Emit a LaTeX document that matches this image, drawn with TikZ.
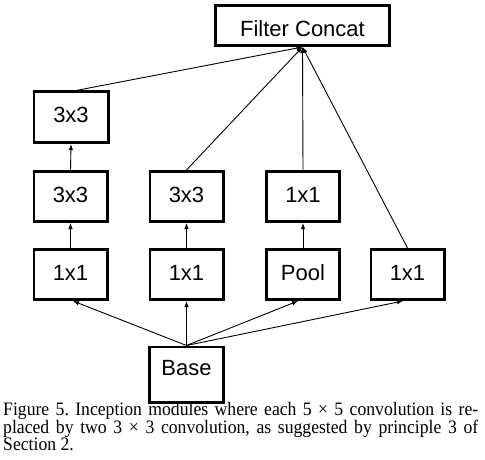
\documentclass[tikz,border=0pt]{standalone}
\usepackage{fontspec}
\setmainfont{Liberation Sans}
\newfontfamily\capfont[FakeStretch=0.93]{Liberation Serif}
\usetikzlibrary{arrows.meta}
\newcommand\lift[2]{\raisebox{#1}[\height][\depth]{#2}}
\frenchspacing
\begin{document}
\begin{tikzpicture}[x=1pt,y=-1pt,
  box/.style={draw,line width=2.6pt,minimum width=73.4pt,minimum height=50.4pt,inner sep=0pt,font=\fontsize{22}{24}\selectfont},
  conn/.style={line width=0.9pt,-{Latex[length=6pt,width=4.5pt]}}]
\useasboundingbox (0,0) rectangle (485,460);
\node[box,minimum width=174.4pt,minimum height=40.4pt] (fc) at (302.5,25.5) {\lift{-3.5pt}{Filter Concat}};
\node[box,minimum width=74.4pt,minimum height=50.9pt] (a3) at (71,117.25) {\lift{2pt}{3x3}};
\node[box] (a2) at (70.5,196.5) {\lift{2pt}{3x3}};
\node[box] (b2) at (186.5,196.5) {\lift{2pt}{3x3}};
\node[box] (c2) at (303,196.5) {\lift{2pt}{1x1}};
\node[box] (a1) at (70.5,274.5) {\lift{2pt}{1x1}};
\node[box] (b1) at (186.5,274.5) {\lift{2pt}{1x1}};
\node[box] (c1) at (303,274.5) {\lift{2pt}{Pool}};
\node[box] (d1) at (407.5,274.5) {\lift{2pt}{1x1}};
\node[box,minimum width=74.4pt,minimum height=55.4pt] (base) at (186.5,374.5) {\lift{6pt}{Base}};
% base to first row
\draw[conn] (base.north) -- ([xshift=2.5pt]a1.south);
\draw[conn] (base.north) -- (b1.south);
\draw[conn] (base.north) -- ([xshift=-5pt]c1.south);
\draw[conn] (base.north) -- ([xshift=-4.5pt]d1.south);
% verticals
\draw[conn] (a1.north) -- (a2.south);
\draw[conn] (b1.north) -- (b2.south);
\draw[conn] (c1.north) -- (c2.south);
\draw[conn] (a2.north) -- (a3.south);
% to concat
\draw[conn] ([xshift=5pt]a3.north) -- (fc.south);
\draw[conn] (b2.north) -- (fc.south);
\draw[conn] (c2.north) -- (fc.south);
\draw[conn] (d1.north) -- (fc.south);
\node[anchor=base west,inner sep=0pt,text width=475pt,align=justify,font=\capfont\fontsize{19}{17.5}\selectfont] (cap) at (3,415.5)
 {Figure 5. Inception modules where each 5 × 5 convolution is re-\linebreak placed by two 3 × 3 convolution, as suggested by principle 3 of\linebreak Section 2.};
\end{tikzpicture}
\end{document}
